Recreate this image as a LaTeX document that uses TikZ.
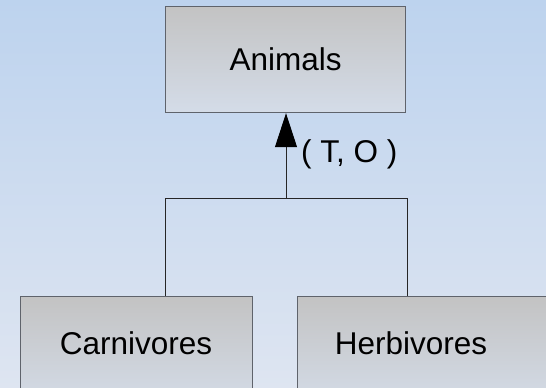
\documentclass[tikz,border=0pt]{standalone}
\usepackage{fontspec}
\setmainfont{Liberation Sans}
\usetikzlibrary{arrows.meta}
\definecolor{bgtop}{HTML}{BDD3EE}
\definecolor{bgbot}{HTML}{DEE5F1}
\definecolor{boxtop}{HTML}{C3C3C3}
\definecolor{boxbot}{HTML}{D4DCE8}
\definecolor{boxline}{HTML}{5F636B}
\tikzset{
  classbox/.style={draw=boxline, line width=1.2pt, top color=boxtop, bottom color=boxbot,
    minimum width=#1, minimum height=106pt, inner sep=0pt, anchor=north west},
  label text/.style={font=\fontsize{31.5}{37}\selectfont, text=black},
  link/.style={draw=black!85, line width=0.9pt},
}
\begin{document}
\begin{tikzpicture}[x=1pt,y=-1pt]
  % canvas and background
  \useasboundingbox (0,0) rectangle (546,388);
  \clip (0,0) rectangle (546,388);
  \shade[top color=bgtop, bottom color=bgbot] (0,0) rectangle (546,388);

  % class boxes
  \node[classbox=240pt] (animals) at (165,6) {};
  \node[label text] at (animals.center) {Animals};
  \node[classbox=232pt, minimum height=110pt] (carn) at (20,296) {};
  \node[label text, anchor=center] at (136,343) {Carnivores};
  \node[classbox=260pt, minimum height=110pt] (herb) at (297,296) {};
  \node[label text, anchor=center] at (411,343) {Herbivores};

  % generalization connector
  \coordinate (join) at (286,198);
  \coordinate (jl) at (165,198);
  \coordinate (jr) at (407,198);
  \coordinate (cl) at (165,296);
  \coordinate (cr) at (407,296);
  \draw[link] (jl) -- (jr);
  \draw[link] (jl) -- (cl);
  \draw[link] (jr) -- (cr);
  \draw[link, -{Triangle[length=34pt,width=22pt,fill=black,color=black]}] (join) -- (animals.south -| join);
  \node[label text, anchor=west, inner sep=0pt] (tag) at (301,154) {( T, O )};
\end{tikzpicture}
\end{document}
